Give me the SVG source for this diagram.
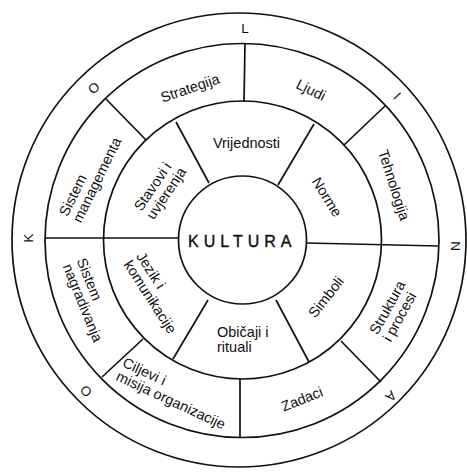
<svg xmlns="http://www.w3.org/2000/svg" width="467" height="474" viewBox="0 0 467 474">
<style>
.c{fill:none;stroke:#111;stroke-width:1.7}
.l{stroke:#111;stroke-width:1.7;fill:none}
text{font-family:"Liberation Sans",Arial,Helvetica,sans-serif;font-size:14.5px;fill:#111}
.m{text-anchor:middle}
.k{font-size:13.5px;text-anchor:middle}
</style>
<rect width="467" height="474" fill="#fff"/>
<g id="rings">
<circle class="c" cx="239" cy="240" r="227"/>
<circle class="c" cx="242" cy="240.5" r="197"/>
<circle class="c" cx="242.5" cy="240" r="139"/>
</g>
<g id="connectors">
<line class="l" x1="245" y1="43" x2="244" y2="102"/>
<line class="l" x1="106" y1="99" x2="146" y2="140"/>
<line class="l" x1="385" y1="106" x2="344" y2="145"/>
<line class="l" x1="45" y1="238" x2="178" y2="238"/>
<line class="l" x1="307" y1="243" x2="439" y2="246"/>
<line class="l" x1="341" y1="341" x2="381" y2="382"/>
<line class="l" x1="240" y1="379" x2="240" y2="438"/>
<line class="l" x1="143" y1="339" x2="102" y2="377"/>
<line class="l" x1="176" y1="122" x2="209" y2="183"/>
<line class="l" x1="314" y1="124" x2="278" y2="185"/>
<line class="l" x1="276" y1="300" x2="309" y2="362"/>
<line class="l" x1="208" y1="300" x2="173" y2="359"/>
</g>
<g id="kultura">
<circle class="c" cx="242.5" cy="240" r="64"/>
<text x="188" y="247" style="font-size:16px;letter-spacing:5px;stroke:#111;stroke-width:0.4">KULTURA</text>
</g>
<g id="vrijednosti"><text class="m" x="246.5" y="148">Vrijednosti</text></g>
<g id="norme" transform="translate(327,197) rotate(58)"><text class="m" x="0" y="5">Norme</text></g>
<g id="simboli" transform="translate(326,297) rotate(-52)"><text class="m" x="0" y="5">Simboli</text></g>
<g id="obicaji"><text x="217" y="337">Običaji  i</text><text x="217" y="352">rituali</text></g>
<g id="jezik" transform="translate(156,292) rotate(57)"><text x="-41" y="-2.5">Jezik  i</text><text x="-41" y="12.5">komunikacije</text></g>
<g id="stavovi" transform="translate(160,189) rotate(-56)"><text x="-29.5" y="-2.5">Stavovi  i</text><text x="-29.5" y="12.5">uvjerenja</text></g>
<g id="strategija" transform="translate(190,88) rotate(-19)"><text class="m" x="0" y="5">Strategija</text></g>
<g id="ljudi" transform="translate(311,90) rotate(26)"><text class="m" x="0" y="5">Ljudi</text></g>
<g id="tehnologija" transform="translate(394,185) rotate(72)"><text class="m" x="0" y="5">Tehnologija</text></g>
<g id="struktura" transform="translate(394,311) rotate(-61)"><text x="-29.5" y="-2.5">Struktura</text><text x="-29.5" y="12.5">i procesi</text></g>
<g id="zadaci" transform="translate(302,399) rotate(-22)"><text class="m" x="0" y="5">Zadaci</text></g>
<g id="ciljevi" transform="translate(177.5,395) rotate(25)"><text x="-63" y="-2.5">Ciljevi  i</text><text x="-63" y="12.5">misija organizacije</text></g>
<g id="nagradivanja" transform="translate(89.5,299.5) rotate(68)"><text x="-41" y="-2.5">Sistem</text><text x="-41" y="12.5">nagradivanja</text></g>
<g id="managementa" transform="translate(90,177) rotate(-64)"><text x="-46" y="-2.5">Sistem</text><text x="-46" y="12.5">managementa</text></g>
<g id="letters">
<text class="k" transform="translate(245,28)" y="4.5">L</text>
<text class="k" transform="translate(397,96) rotate(47)" y="4.5">I</text>
<text class="k" transform="translate(455,246) rotate(90)" y="4.5">N</text>
<text class="k" transform="translate(391,396) rotate(136)" y="4.5">A</text>
<text class="k" transform="translate(86,391) rotate(-134)" y="4.5">O</text>
<text class="k" transform="translate(28,238) rotate(-90)" y="4.5">K</text>
<text class="k" transform="translate(94,88) rotate(-44)" y="4.5">O</text>
</g>
</svg>
